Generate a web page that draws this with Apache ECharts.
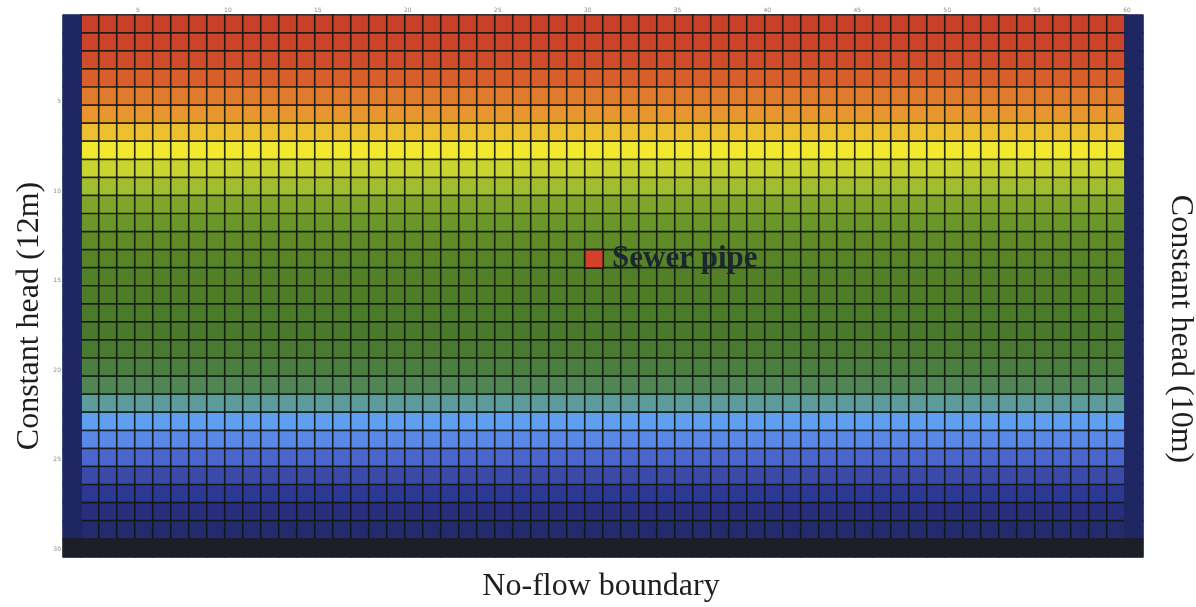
<!DOCTYPE html>
<html>
<head>
<meta charset="utf-8">
<style>
  html, body { margin: 0; padding: 0; background: #ffffff; }
  #chart { width: 1196px; height: 607px; }
</style>
<script src="https://cdn.jsdelivr.net/npm/echarts@6/dist/echarts.min.js"></script>
</head>
<body>
<div id="chart"></div>
<script>
// ---- data ----
const colCount = 60;            // model columns (1 = left boundary, 60 = right boundary)
const rowCount = 30;            // model rows (30 = no-flow boundary)
const colCats = Array.from({length: colCount}, (_, i) => String(i + 1));
const rowCats = Array.from({length: rowCount}, (_, i) => String(i + 1));

// colour level of each active row (row 1 at top .. row 29)
const rowLevels = [29, 28, 27, 26, 25, 24, 23, 22, 21, 20,
                   19, 18, 17, 16, 15, 14, 13, 12, 11, 10,
                   9, 8, 7, 6, 5, 4, 3, 2, 1];

// boundaries
const leftBoundaryCol = 1;
const rightBoundaryCol = 60;
const noFlowRow = 30;

// sewer pipe cell [column, row]
const sewerCell = [30, 14];

// axis tick labels
const topTicks = [5, 10, 15, 20, 25, 30, 35, 40, 45, 50, 55, 60];
const leftTicks = [5, 10, 15, 20, 25, 30];

// ---- build cell tables ----
const activeCells = [];
for (let r = 1; r < noFlowRow; r++) {
  for (let c = leftBoundaryCol + 1; c < rightBoundaryCol; c++) {
    activeCells.push([c - 1, r - 1, rowLevels[r - 1]]);
  }
}
const headCells = [];
for (let r = 1; r < noFlowRow; r++) {
  headCells.push([leftBoundaryCol - 1, r - 1, 0]);
  headCells.push([rightBoundaryCol - 1, r - 1, 0]);
}
const noFlowCells = [];
for (let c = 1; c <= colCount; c++) {
  noFlowCells.push([c - 1, noFlowRow - 1, 1]);
}

// colour ramp, level 1 (bottom, dark blue) .. level 29 (top, red)
const ramp = [
  '#232a6e', '#272e7e', '#2c3892', '#3a4aa8', '#4a66cc', '#5a88e6', '#609ef0',
  '#5c9c9a', '#508654', '#4c7e40', '#4a7a32', '#4a782c', '#4b7a29', '#4e7c27',
  '#518026', '#568426', '#5e8a28', '#6a962a', '#80a42c', '#a0be2e', '#c8d430',
  '#f2e830', '#ecc030', '#e8952e', '#e07a2c', '#d85e2a', '#cf4c2a', '#cb442a', '#c9402a'
];

const gridLine = 'rgba(18,22,16,0.85)';
const headColor = '#1f2762';
const noFlowColor = '#1d1f28';

const chart = echarts.init(document.getElementById('chart'), null, {renderer: 'canvas'});
chart.setOption({
  animation: false,
  backgroundColor: '#ffffff',
  grid: { left: 63, top: 15, width: 1080, height: 542, containLabel: false },
  xAxis: [
    { type: 'category', data: colCats, show: false, position: 'bottom' },
    { type: 'value', position: 'top', min: 0.83, max: 60.89,
      axisLine: {show: false}, axisTick: {show: false}, splitLine: {show: false},
      axisLabel: { customValues: topTicks, fontSize: 6, color: '#8a8a8a', margin: 2,
                   fontFamily: 'DejaVu Sans' } }
  ],
  yAxis: [
    { type: 'category', data: rowCats, inverse: true, show: false, position: 'right' },
    { type: 'value', position: 'left', inverse: true, min: 0.15, max: 30.45,
      axisLine: {show: false}, axisTick: {show: false}, splitLine: {show: false},
      axisLabel: { customValues: leftTicks, fontSize: 6, color: '#8a8a8a', margin: 2,
                   fontFamily: 'DejaVu Sans' } }
  ],
  visualMap: [
    { type: 'continuous', show: false, seriesIndex: 0, dimension: 2,
      min: 1, max: 29, inRange: { color: ramp } },
    { type: 'piecewise', show: false, seriesIndex: 1, dimension: 2,
      pieces: [ {value: 0, color: headColor} ] },
    { type: 'piecewise', show: false, seriesIndex: 2, dimension: 2,
      pieces: [ {value: 1, color: noFlowColor} ] },
    { type: 'piecewise', show: false, seriesIndex: 3, dimension: 2,
      pieces: [ {value: 2, color: '#d4412b'} ] }
  ],
  series: [
    { type: 'heatmap', xAxisIndex: 0, yAxisIndex: 0, data: activeCells,
      itemStyle: { borderColor: gridLine, borderWidth: 1.7 },
      emphasis: {disabled: true} },
    { type: 'heatmap', xAxisIndex: 0, yAxisIndex: 0, data: headCells,
      itemStyle: { borderColor: headColor, borderWidth: 1 }, emphasis: {disabled: true} },
    { type: 'heatmap', xAxisIndex: 0, yAxisIndex: 0, data: noFlowCells,
      itemStyle: { borderColor: noFlowColor, borderWidth: 1 }, emphasis: {disabled: true} },
    { type: 'heatmap', xAxisIndex: 0, yAxisIndex: 0,
      data: [[sewerCell[0] - 1, sewerCell[1] - 1, 2]],
      itemStyle: { borderColor: gridLine, borderWidth: 1.7 },
      label: { show: true, position: 'right', distance: 8, formatter: 'Sewer pipe',
               fontFamily: 'Liberation Serif', fontWeight: 'bold', fontSize: 31,
               color: '#1c2630' },
      emphasis: {disabled: true} },
    { type: 'scatter', xAxisIndex: 1, yAxisIndex: 1, data: [], silent: true }
  ],
  graphic: [
    { type: 'text', x: 30, y: 316, rotation: Math.PI / 2,
      style: { text: 'Constant head (12m)', fontFamily: 'Liberation Serif', fontSize: 32,
               fill: '#1e1e1e', align: 'center', verticalAlign: 'middle' } },
    { type: 'text', x: 1180, y: 329, rotation: -Math.PI / 2,
      style: { text: 'Constant head (10m)', fontFamily: 'Liberation Serif', fontSize: 32,
               fill: '#1e1e1e', align: 'center', verticalAlign: 'middle' } },
    { type: 'text', x: 601, y: 587,
      style: { text: 'No-flow boundary', fontFamily: 'Liberation Serif', fontSize: 32,
               fill: '#1e1e1e', align: 'center', verticalAlign: 'middle' } }
  ]
});
</script>
</body>
</html>
